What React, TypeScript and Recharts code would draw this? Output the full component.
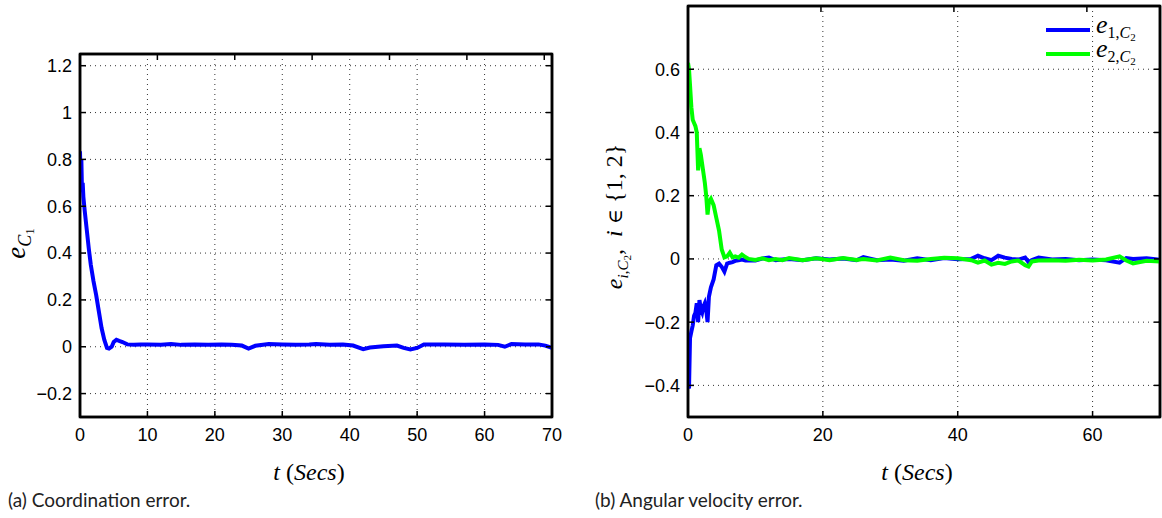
import { LineChart, Line, XAxis, YAxis, CartesianGrid, Legend, ReferenceArea } from 'recharts';

// (a) coordination error
const coordTime = [0, 0.1, 0.2, 0.3, 0.4, 0.5, 0.7, 1.0, 1.3, 1.6, 2.0, 2.4, 2.8, 3.2, 3.6, 4.0, 4.3, 4.7, 5.0, 5.4, 5.8, 6.3, 7, 8, 9, 10, 12, 13.5, 15, 17, 19, 21, 22.5, 24, 25, 26, 28, 30, 32, 34, 35, 37, 39, 40.5, 42, 43, 45, 47, 48, 49, 50, 51, 54, 57, 60, 62, 63, 64, 66, 68, 69, 70];
const coordErr = [0.835, 0.7, 0.8, 0.66, 0.7, 0.64, 0.58, 0.5, 0.42, 0.35, 0.28, 0.22, 0.15, 0.08, 0.03, -0.005, -0.008, 0.0, 0.02, 0.03, 0.025, 0.02, 0.01, 0.008, 0.01, 0.01, 0.009, 0.012, 0.008, 0.01, 0.008, 0.01, 0.008, 0.005, -0.008, 0.004, 0.012, 0.01, 0.008, 0.01, 0.012, 0.008, 0.01, 0.005, -0.01, -0.003, 0.002, 0.005, -0.005, -0.012, -0.005, 0.01, 0.01, 0.009, 0.01, 0.008, 0.0, 0.012, 0.01, 0.01, 0.005, -0.005];
const coordXTicks = [0, 10, 20, 30, 40, 50, 60, 70];
const coordYTicks = [-0.2, 0, 0.2, 0.4, 0.6, 0.8, 1, 1.2];

// (b) angular velocity error
const velTime = [0, 0.15, 0.3, 0.5, 0.7, 0.9, 1.1, 1.3, 1.5, 1.7, 1.9, 2.1, 2.3, 2.5, 2.7, 2.9, 3.1, 3.4, 3.8, 4.2, 4.6, 5.0, 5.4, 5.8, 6.2, 6.6, 7.0, 7.5, 8.0, 8.5, 9.0, 10, 11, 12, 13, 14, 15, 17, 19, 21, 23, 25, 26, 28, 30, 32, 34, 36, 38, 40, 42, 43, 44, 45, 46, 47, 48, 49, 50, 50.5, 51, 52, 54, 56, 58, 60, 62, 64, 65, 66, 68, 70];
const velErr1 = [-0.4, -0.41, -0.25, -0.23, -0.21, -0.18, -0.17, -0.14, -0.2, -0.13, -0.16, -0.17, -0.15, -0.14, -0.16, -0.2, -0.12, -0.09, -0.065, -0.02, -0.015, -0.025, -0.04, -0.015, -0.012, -0.01, -0.006, -0.004, -0.002, -0.005, -0.004, -0.005, 0.001, 0.004, -0.004, -0.002, 0.0, -0.004, 0.002, -0.002, 0.001, -0.004, 0.006, -0.004, -0.002, -0.006, 0.002, -0.004, 0.003, -0.001, 0.0, 0.01, 0.002, -0.004, 0.01, 0.004, 0.0, -0.002, 0.004, -0.01, -0.004, 0.004, -0.002, 0.0, -0.004, -0.002, -0.004, -0.012, 0.003, 0.0, 0.002, -0.003];
const velErr2 = [0.62, 0.6, 0.55, 0.48, 0.44, 0.43, 0.42, 0.4, 0.28, 0.35, 0.33, 0.3, 0.27, 0.24, 0.2, 0.14, 0.18, 0.19, 0.17, 0.13, 0.09, 0.03, 0.005, 0.008, 0.02, 0.005, 0.008, 0.004, 0.014, 0.006, 0.0, -0.003, 0.002, -0.004, 0.0, -0.004, 0.003, -0.004, 0.002, -0.004, 0.003, -0.003, 0.0, -0.005, 0.004, -0.004, -0.006, 0.0, 0.004, 0.002, -0.004, -0.012, -0.005, -0.018, -0.012, -0.016, -0.008, -0.005, -0.02, -0.024, -0.008, -0.005, -0.004, -0.006, -0.003, -0.005, -0.002, 0.008, -0.005, -0.014, -0.006, -0.008];
const velXTicks = [0, 20, 40, 60];
const velYTicks = [-0.4, -0.2, 0, 0.2, 0.4, 0.6];

const coordData = coordTime.map((t, i) => ({ t, e: coordErr[i] }));
const velData = velTime.map((t, i) => ({ t, e1: velErr1[i], e2: velErr2[i] }));

const SANS = '"Liberation Sans", Arial, Helvetica, sans-serif';
const SERIF = '"Liberation Serif", "Times New Roman", serif';
const TICK = { fontFamily: SANS, fontSize: 18, fill: '#000', style: { fontFamily: SANS } };
const AXIS = { stroke: '#000', strokeWidth: 2.5 };
const TICKLINE = { stroke: '#000', strokeWidth: 1.5 };

function fmt(v: number) {
  const s = String(Math.round(v * 10) / 10);
  return v < 0 ? '\u2212' + s.slice(1) : s;
}
const blank = () => '';

function renderTLabel(props: any) {
  const vb = props.viewBox;
  return (
    <text x={vb.x + vb.width / 2 - 7} y={vb.y + 63} textAnchor="middle" style={{ fontFamily: SERIF }} fontSize={24} fill="#000">
      <tspan fontStyle="italic">t</tspan>
      <tspan>{' ('}</tspan>
      <tspan fontStyle="italic">Secs</tspan>
      <tspan>)</tspan>
    </text>
  );
}

function renderCoordYLabel(props: any) {
  const vb = props.viewBox;
  const cx = vb.x + 25;
  const cy = vb.y + vb.height / 2 + 8;
  return (
    <text transform={`translate(${cx},${cy}) rotate(-90)`} textAnchor="middle" style={{ fontFamily: SERIF }} fill="#000">
      <tspan fontSize={27} fontStyle="italic">e</tspan>
      <tspan fontSize={18} fontStyle="italic" dy={6}>C</tspan>
      <tspan fontSize={13} dy={3}>1</tspan>
    </text>
  );
}

function renderVelYLabel(props: any) {
  const vb = props.viewBox;
  const cx = vb.x + 42;
  const cy = vb.y + vb.height / 2 + 5;
  return (
    <text transform={`translate(${cx},${cy}) rotate(-90)`} textAnchor="middle" style={{ fontFamily: SERIF }} fill="#000">
      <tspan fontSize={24} fontStyle="italic">e</tspan>
      <tspan fontSize={15} fontStyle="italic" dy={6}>i</tspan>
      <tspan fontSize={15}>,</tspan>
      <tspan fontSize={15} fontStyle="italic">C</tspan>
      <tspan fontSize={11} dy={3}>2</tspan>
      <tspan fontSize={24} dy={-9}>,</tspan>
      <tspan fontSize={24} fontStyle="italic" dx={12}>i</tspan>
      <tspan fontSize={20} style={{ fontFamily: '"DejaVu Serif", serif' }}>{' \u2208 '}</tspan>
      <tspan fontSize={24}>{'{1, 2}'}</tspan>
    </text>
  );
}

const legendNames: Record<string, string> = { e1: '1', e2: '2' };

function renderLegend(props: any) {
  const items = props.payload || [];
  return (
    <div>
      {items.map((it: any) => (
        <div key={it.dataKey} style={{ display: 'flex', alignItems: 'center', height: 24 }}>
          <div style={{ width: 44, height: 4, background: it.color }} />
          <span style={{ marginLeft: 6, fontFamily: SERIF, color: '#000', position: 'relative', top: -3, whiteSpace: 'nowrap', lineHeight: '24px' }}>
            <span style={{ fontSize: 26, fontStyle: 'italic' }}>e</span>
            <span style={{ fontSize: 16, position: 'relative', top: 5 }}>
              {legendNames[it.dataKey]},<i>C</i>
              <span style={{ fontSize: 11, position: 'relative', top: 3 }}>2</span>
            </span>
          </span>
        </div>
      ))}
    </div>
  );
}

function CoordChart() {
  return (
    <LineChart width={580} height={518} data={coordData} margin={{ top: 53, right: 27, bottom: 0, left: 0 }}>
      <CartesianGrid stroke="#333" strokeDasharray="1 4" />
      <XAxis dataKey="t" type="number" domain={[0, 70]} ticks={coordXTicks} interval={0} height={101}
        tickSize={-6} tickMargin={17} tick={TICK} tickFormatter={fmt} axisLine={AXIS} tickLine={TICKLINE}
        label={renderTLabel} allowDataOverflow />
      <XAxis xAxisId="top" orientation="top" type="number" domain={[0, 70]} ticks={coordXTicks} interval={0}
        height={1} tickSize={-6} tickFormatter={blank} axisLine={AXIS} tickLine={TICKLINE} allowDataOverflow />
      <YAxis type="number" domain={[-0.3, 1.25]} ticks={coordYTicks} interval={0} width={80}
        tickSize={-6} tickMargin={14} tick={TICK} tickFormatter={fmt} axisLine={AXIS} tickLine={TICKLINE}
        label={renderCoordYLabel} allowDataOverflow />
      <YAxis yAxisId="right" orientation="right" type="number" domain={[-0.3, 1.25]} ticks={coordYTicks} interval={0}
        width={1} tickSize={-6} tickFormatter={blank} axisLine={AXIS} tickLine={TICKLINE} allowDataOverflow />
      <ReferenceArea x1={0} x2={70} y1={-0.3} y2={1.25} fill="none" fillOpacity={0} stroke="#000" strokeWidth={2.5} />
      <Line type="linear" dataKey="e" stroke="#0000ff" strokeWidth={4} dot={false} isAnimationActive={false} />
    </LineChart>
  );
}

function VelChart() {
  return (
    <LineChart width={582} height={518} data={velData} margin={{ top: 5, right: 1, bottom: 0, left: 0 }}>
      <CartesianGrid stroke="#333" strokeDasharray="1 4" />
      <XAxis dataKey="t" type="number" domain={[0, 70]} ticks={velXTicks} interval={0} height={101}
        tickSize={-6} tickMargin={17} tick={TICK} tickFormatter={fmt} axisLine={AXIS} tickLine={TICKLINE}
        label={renderTLabel} allowDataOverflow />
      <XAxis xAxisId="top" orientation="top" type="number" domain={[0, 70]} ticks={velXTicks} interval={0}
        height={1} tickSize={-6} tickFormatter={blank} axisLine={AXIS} tickLine={TICKLINE} allowDataOverflow />
      <YAxis type="number" domain={[-0.5, 0.8]} ticks={velYTicks} interval={0} width={108}
        tickSize={-6} tickMargin={14} tick={TICK} tickFormatter={fmt} axisLine={AXIS} tickLine={TICKLINE}
        label={renderVelYLabel} allowDataOverflow />
      <YAxis yAxisId="right" orientation="right" type="number" domain={[-0.5, 0.8]} ticks={velYTicks} interval={0}
        width={1} tickSize={-6} tickFormatter={blank} axisLine={AXIS} tickLine={TICKLINE} allowDataOverflow />
      <ReferenceArea x1={0} x2={70} y1={-0.5} y2={0.8} fill="none" fillOpacity={0} stroke="#000" strokeWidth={2.5} />
      <Legend content={renderLegend} layout="vertical" align="center" verticalAlign="middle"
        wrapperStyle={{ top: 18, left: 466, width: 115, height: 48 }} />
      <Line type="linear" dataKey="e1" name="e1" stroke="#0000ff" strokeWidth={4} dot={false} isAnimationActive={false} />
      <Line type="linear" dataKey="e2" name="e2" stroke="#00ff00" strokeWidth={4} dot={false} isAnimationActive={false} />
    </LineChart>
  );
}

const captionStyle: React.CSSProperties = {
  position: 'absolute', top: 491, fontFamily: 'Lato, "Noto Sans", sans-serif', fontSize: 19, lineHeight: '18px', color: '#222', whiteSpace: 'nowrap',
};

export default function App() {
  return (
    <div style={{ position: 'absolute', left: 0, top: 0, width: 1162, height: 518, overflow: 'hidden', background: '#fff' }}>
      <div style={{ position: 'absolute', left: 0, top: 0 }}>
        <CoordChart />
      </div>
      <div style={{ position: 'absolute', left: 580, top: 0 }}>
        <VelChart />
      </div>
      <div style={{ ...captionStyle, left: 8 }}>(a) Coordination error.</div>
      <div style={{ ...captionStyle, left: 595 }}>(b) Angular velocity error.</div>
    </div>
  );
}
